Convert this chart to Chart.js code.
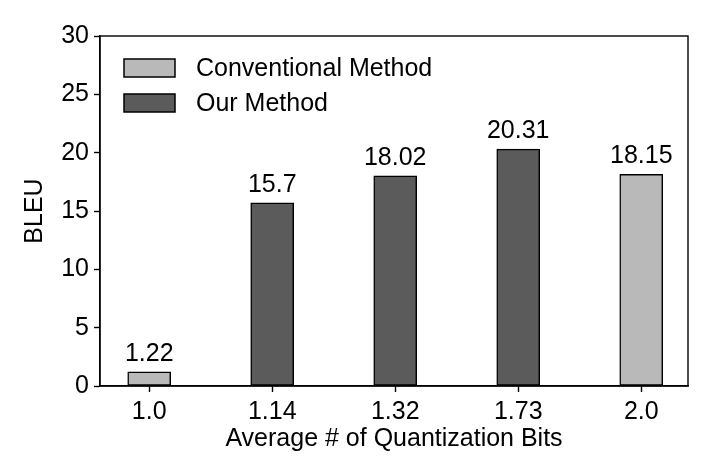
<!DOCTYPE html>
<html>
<head>
<meta charset="utf-8">
<script src="https://cdn.jsdelivr.net/npm/chart.js@4.4.0/dist/chart.umd.min.js"></script>
<style>
  html, body { margin: 0; padding: 0; background: #fff; }
  #wrap { width: 716px; height: 468px; }
</style>
</head>
<body>
<div id="wrap"><canvas id="bleuChart" width="716" height="468"></canvas></div>
<script>
// bits labels along x
const bitLabels = ['1.0', '1.14', '1.32', '1.73', '2.0'];
// which position each series sits at, and its BLEU
const convPos = [0, 4];
const convBleu = [1.22, 18.15];
const ourPos = [1, 2, 3];
const ourBleu = [15.7, 18.02, 20.31];
const yTicks = [0, 5, 10, 15, 20, 25, 30];

const FONT = 'Liberation Sans, Arial, Helvetica, sans-serif';
const FS = 25;

function pts(xs, ys) {
    return xs.map((x, i) => ({ x: x, y: ys[i] }));
}

// box around the plot + value labels + legend inside the plot
const decor = {
    id: 'decor',
    afterDatasetsDraw(chart) {
        const ctx = chart.ctx;
        const a = chart.chartArea;
        ctx.save();
        ctx.strokeStyle = '#000';
        ctx.lineWidth = 1.4;
        ctx.strokeRect(a.left, a.top, a.right - a.left, a.bottom - a.top);

        ctx.fillStyle = '#000';
        ctx.font = FS + 'px ' + FONT;
        ctx.textAlign = 'center';
        ctx.textBaseline = 'alphabetic';
        chart.data.datasets.forEach((ds, di) => {
            chart.getDatasetMeta(di).data.forEach((bar, i) => {
                ctx.fillText(String(ds.data[i].y), bar.x, bar.y - 11);
            });
        });

        ctx.textAlign = 'left';
        ctx.textBaseline = 'middle';
        chart.data.datasets.forEach((ds, di) => {
            const y = a.top + 32 + di * 35;
            ctx.fillStyle = ds.backgroundColor;
            ctx.fillRect(a.left + 24, y - 9, 51, 18);
            ctx.lineWidth = 1.5;
            ctx.strokeStyle = '#000';
            ctx.strokeRect(a.left + 24, y - 9, 51, 18);
            ctx.fillStyle = '#000';
            ctx.fillText(ds.label, a.left + 96, y + 1);
        });
        ctx.restore();
    }
};

function construirGrafico() {
    const ctx = document.getElementById('bleuChart').getContext('2d');

    new Chart(ctx, {
        type: 'bar',
        data: {
            datasets: [{
                label: 'Conventional Method',
                data: pts(convPos, convBleu),
                backgroundColor: '#b9b9b9',
                borderColor: '#000',
                borderWidth: 1.5,
                borderSkipped: false
            }, {
                label: 'Our Method',
                data: pts(ourPos, ourBleu),
                backgroundColor: '#5b5b5b',
                borderColor: '#000',
                borderWidth: 1.5,
                borderSkipped: false
            }]
        },
        options: {
            responsive: false,
            animation: false,
            grouped: false,
            barThickness: 43,
            layout: { padding: { left: 20, top: 36, right: 28, bottom: 14 } },
            plugins: {
                legend: { display: false },
                tooltip: { enabled: false }
            },
            scales: {
                x: {
                    type: 'linear',
                    offset: false,
                    min: -0.4,
                    max: 4.38,
                    afterBuildTicks: function(scale) {
                        scale.ticks = bitLabels.map((l, i) => ({ value: i }));
                    },
                    afterFit: function(scale) { scale.height = 68; },
                    ticks: {
                        callback: function(v) { return bitLabels[v]; },
                        color: '#000',
                        font: { family: FONT, size: FS },
                        padding: 5,
                        maxRotation: 0
                    },
                    grid: {
                        offset: false,
                        drawOnChartArea: false,
                        color: '#000',
                        tickLength: 6,
                        tickWidth: 1.4
                    },
                    border: { color: '#000', width: 1.4 },
                    title: {
                        display: true,
                        text: 'Average # of Quantization Bits',
                        color: '#000',
                        font: { family: FONT, size: FS },
                        padding: { top: 0, bottom: 0 }
                    }
                },
                y: {
                    min: 0,
                    max: 30,
                    afterBuildTicks: function(scale) {
                        scale.ticks = yTicks.map(v => ({ value: v }));
                    },
                    afterFit: function(scale) { scale.width = 80; },
                    ticks: {
                        color: '#000',
                        font: { family: FONT, size: FS },
                        padding: 5
                    },
                    grid: {
                        drawOnChartArea: false,
                        color: '#000',
                        tickLength: 6,
                        tickWidth: 1.4
                    },
                    border: { color: '#000', width: 1.4 },
                    title: {
                        display: true,
                        text: 'BLEU',
                        color: '#000',
                        font: { family: FONT, size: FS },
                        padding: { top: 0, bottom: 0 }
                    }
                }
            }
        },
        plugins: [decor]
    });
}

construirGrafico();
</script>
</body>
</html>
